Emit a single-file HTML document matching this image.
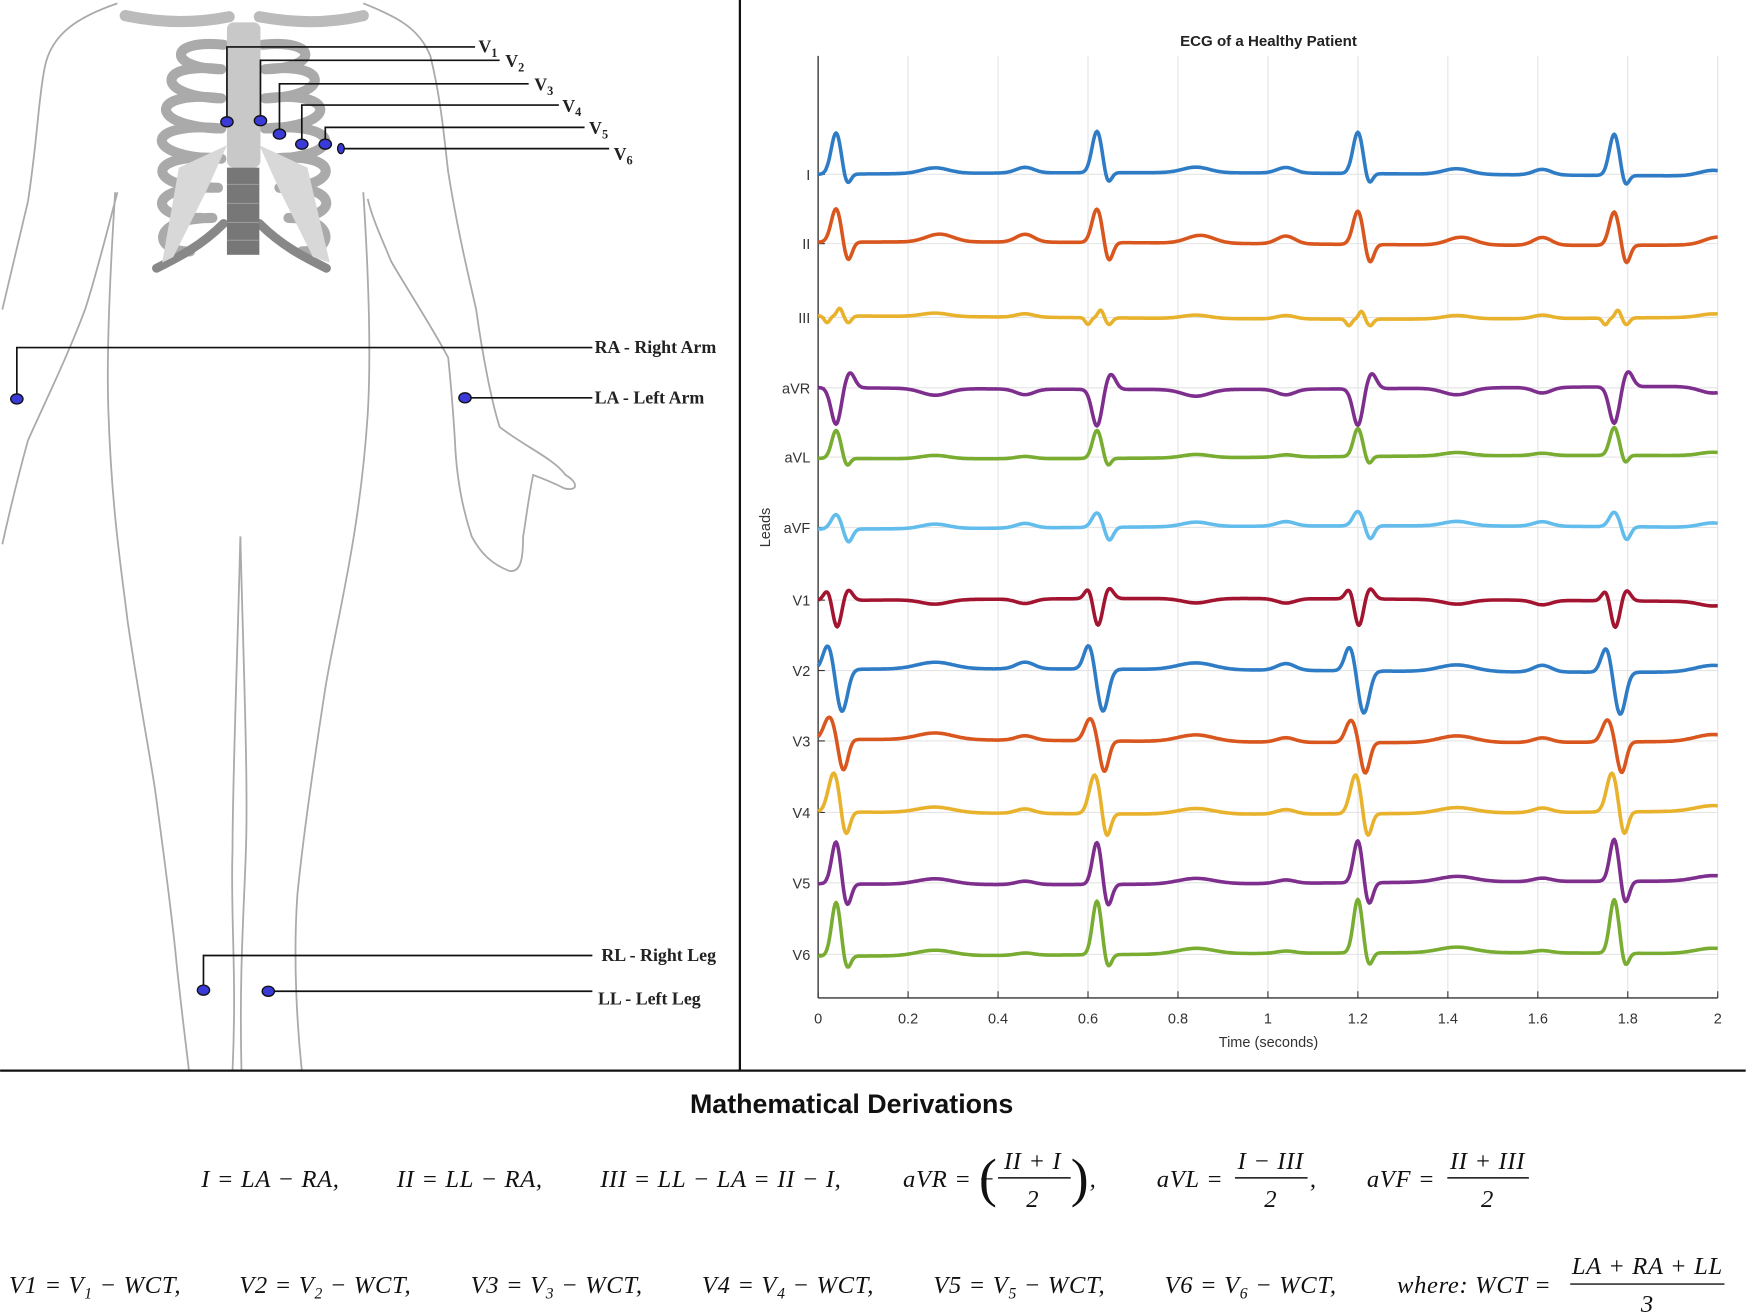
<!DOCTYPE html>
<html><head><meta charset="utf-8">
<style>
html,body{margin:0;padding:0;background:#fff;}
svg{display:block;}
.lab{font-family:"Liberation Serif",serif;font-weight:bold;font-size:16px;fill:#222;}
.tk{font-family:"Liberation Sans",sans-serif;font-size:13px;fill:#333;}
.m{font-family:"Liberation Serif",serif;font-style:italic;font-size:22px;fill:#111;letter-spacing:0.6px;}
</style></head>
<body>
<svg id="s" width="1748" height="1312" viewBox="0 0 1564 1174" xmlns="http://www.w3.org/2000/svg">
<rect width="1564" height="1174" fill="#fff"/>
<g fill="none" stroke="#aaa" stroke-width="1.6">
<path d="M105,3 C70,15 46,30 40,60 C34,90 34,120 25,180 L2,277"/>
<path d="M105,172 C95,210 85,250 76,277 C60,320 40,360 25,394 C15,430 8,460 2,487"/>
<path d="M103,172 C98,250 95,320 97,370 C100,460 110,520 114,555 C125,630 135,680 139,709 C150,790 155,830 158,863 C163,910 167,940 169,958"/>
<path d="M325,172 C330,250 332,320 329,370 C322,480 300,560 291,616 C278,700 270,760 266,801 C262,860 266,920 270,958"/>
<path d="M325,3 C355,15 375,25 385,50 C395,90 398,130 401,154 C410,210 420,250 426,277 C432,320 440,360 447,382 C470,400 495,410 506,425 C518,432 517,440 505,437 C495,432 485,428 477,425 C472,450 470,470 468,480 C468,500 466,512 456,511 C440,505 430,495 422,480 C412,450 408,420 407,394 C405,360 403,340 401,320 C385,290 365,260 350,234 C340,210 333,195 329,178"/>
<path d="M215,480 C212,600 208,700 208,760 C206,820 212,870 208,958"/>
<path d="M215,480 C218,600 222,700 220,760 C218,820 214,870 216,958"/>
</g>
<g fill="none" stroke-linecap="round">
<path d="M112,14 C150,22 180,20 205,15" stroke="#bbb" stroke-width="10"/>
<path d="M232,15 C260,20 290,22 325,14" stroke="#bbb" stroke-width="10"/>
<g stroke="#aaa" stroke-width="9">
<path d="M200,40 C150,35 150,60 195,62"/>
<path d="M198,62 C140,55 138,85 195,88"/>
<path d="M198,88 C135,80 130,112 195,115"/>
<path d="M198,115 C130,108 125,140 195,142"/>
<path d="M198,142 C130,135 128,168 190,168"/>
<path d="M195,168 C132,165 130,195 180,195"/>
<path d="M190,195 C135,195 135,225 170,225"/>
<path d="M235,40 C285,35 285,60 240,62"/>
<path d="M237,62 C295,55 297,85 240,88"/>
<path d="M237,88 C300,80 305,112 240,115"/>
<path d="M237,115 C305,108 310,140 245,142"/>
<path d="M245,142 C305,135 307,168 250,168"/>
<path d="M250,168 C303,165 305,195 260,195"/>
<path d="M258,195 C300,195 300,225 270,225"/>
</g>
<path d="M200,200 C180,220 160,230 140,240" stroke="#888" stroke-width="8"/>
<path d="M232,200 C252,220 272,230 292,240" stroke="#888" stroke-width="8"/>
</g>
<rect x="203" y="20" width="30" height="130" rx="6" fill="#c8c8c8"/>
<path d="M232,130 L275,150 L295,235 L280,230 L250,170 Z" fill="#d8d8d8"/>
<path d="M203,130 L160,150 L145,235 L155,230 L185,170 Z" fill="#d8d8d8"/>
<rect x="203" y="150" width="29" height="78" fill="#777"/>
<g stroke="#999" stroke-width="1"><line x1="203" y1="165" x2="232" y2="165"/><line x1="203" y1="182" x2="232" y2="182"/><line x1="203" y1="199" x2="232" y2="199"/><line x1="203" y1="215" x2="232" y2="215"/></g>
<g stroke="#111" stroke-width="1.5" fill="none">
<path d="M203,105 V42 H425"/><path d="M233,104 V54 H447"/><path d="M250,117 V75 H473"/>
<path d="M270,126 V94 H500"/><path d="M291,126 V114 H523"/><path d="M305,133 H545"/>
<path d="M15,354 V311 H530"/><path d="M416,356 H530"/>
<path d="M182,883 V855 H530"/><path d="M240,887 H530"/>
</g>
<g fill="#3a3ad8" stroke="#111" stroke-width="1.2">
<ellipse cx="203" cy="109" rx="5.5" ry="4.5"/><ellipse cx="233" cy="108" rx="5.5" ry="4.5"/>
<ellipse cx="250" cy="120" rx="5.5" ry="4.5"/><ellipse cx="270" cy="129" rx="5.5" ry="4.5"/>
<ellipse cx="291" cy="129" rx="5.5" ry="4.5"/><ellipse cx="305" cy="133" rx="3" ry="4.5"/>
<ellipse cx="15" cy="357" rx="5.5" ry="4.5"/><ellipse cx="416" cy="356" rx="5.5" ry="4.5"/>
<ellipse cx="182" cy="886" rx="5.5" ry="4.5"/><ellipse cx="240" cy="887" rx="5.5" ry="4.5"/>
</g>
<g class="lab">
<text x="428" y="47">V<tspan font-size="11" dy="4">1</tspan></text>
<text x="452" y="60">V<tspan font-size="11" dy="4">2</tspan></text>
<text x="478" y="81">V<tspan font-size="11" dy="4">3</tspan></text>
<text x="503" y="100">V<tspan font-size="11" dy="4">4</tspan></text>
<text x="527" y="120">V<tspan font-size="11" dy="4">5</tspan></text>
<text x="549" y="143">V<tspan font-size="11" dy="4">6</tspan></text>
<text x="532" y="316">RA - Right Arm</text>
<text x="532" y="361">LA - Left Arm</text>
<text x="538" y="860">RL - Right Leg</text>
<text x="535" y="899">LL - Left Leg</text>
</g>
<line x1="662" y1="0" x2="662" y2="958" stroke="#111" stroke-width="2"/>
<line x1="0" y1="958" x2="1562" y2="958" stroke="#111" stroke-width="2"/>
<g id="grid" stroke="#e4e4e4" stroke-width="1"></g>
<line x1="732" y1="50" x2="732" y2="893" stroke="#333" stroke-width="1.2"/>
<line x1="732" y1="893" x2="1537" y2="893" stroke="#333" stroke-width="1.2"/>
<g id="ticks"></g>
<g id="traces" fill="none" stroke-width="3.2" stroke-linejoin="round"></g>
<text x="1135" y="41" text-anchor="middle" font-family="Liberation Sans, sans-serif" font-weight="bold" font-size="13.5" fill="#222">ECG of a Healthy Patient</text>
<text x="1135" y="937" text-anchor="middle" class="tk" font-size="14">Time (seconds)</text>
<text transform="translate(689,472) rotate(-90)" text-anchor="middle" class="tk" font-size="14">Leads</text>
<text x="762" y="996" text-anchor="middle" font-family="Liberation Sans, sans-serif" font-weight="bold" font-size="24" fill="#111">Mathematical Derivations</text>
<g class="m">
<text x="180" y="1062">I = LA − RA,</text>
<text x="355" y="1062">II = LL − RA,</text>
<text x="537" y="1062">III = LL − LA = II − I,</text>
<text x="808" y="1062">aVR = −</text>
<text x="876" y="1070" font-size="48" font-style="normal">(</text>
<text x="924" y="1046" text-anchor="middle">II + I</text>
<line x1="893" y1="1054" x2="958" y2="1054" stroke="#111" stroke-width="1.3"/>
<text x="924" y="1080" text-anchor="middle">2</text>
<text x="958" y="1070" font-size="48" font-style="normal">)</text>
<text x="975" y="1062">,</text>
<text x="1035" y="1062">aVL =</text>
<text x="1137" y="1046" text-anchor="middle">I − III</text>
<line x1="1105" y1="1054" x2="1170" y2="1054" stroke="#111" stroke-width="1.3"/>
<text x="1137" y="1080" text-anchor="middle">2</text>
<text x="1172" y="1062">,</text>
<text x="1223" y="1062">aVF =</text>
<text x="1331" y="1046" text-anchor="middle">II + III</text>
<line x1="1295" y1="1054" x2="1368" y2="1054" stroke="#111" stroke-width="1.3"/>
<text x="1331" y="1080" text-anchor="middle">2</text>
<text x="8" y="1157">V1 = V<tspan font-size="14" dy="5">1</tspan><tspan dy="-5"> − WCT,</tspan></text>
<text x="214" y="1157">V2 = V<tspan font-size="14" dy="5">2</tspan><tspan dy="-5"> − WCT,</tspan></text>
<text x="421" y="1157">V3 = V<tspan font-size="14" dy="5">3</tspan><tspan dy="-5"> − WCT,</tspan></text>
<text x="628" y="1157">V4 = V<tspan font-size="14" dy="5">4</tspan><tspan dy="-5"> − WCT,</tspan></text>
<text x="835" y="1157">V5 = V<tspan font-size="14" dy="5">5</tspan><tspan dy="-5"> − WCT,</tspan></text>
<text x="1042" y="1157">V6 = V<tspan font-size="14" dy="5">6</tspan><tspan dy="-5"> − WCT,</tspan></text>
<text x="1250" y="1157">where: WCT =</text>
<text x="1474" y="1140" text-anchor="middle">LA + RA + LL</text>
<line x1="1405" y1="1149" x2="1543" y2="1149" stroke="#111" stroke-width="1.3"/>
<text x="1474" y="1174" text-anchor="middle">3</text>
</g>
</svg>
<script>
(function(){
var NS="http://www.w3.org/2000/svg";
function el(p,t,a,txt){var e=document.createElementNS(NS,t);for(var k in a)e.setAttribute(k,a[k]);if(txt!=null)e.textContent=txt;p.appendChild(e);return e;}
var x0=732,xs=402.5;
var grid=document.getElementById('grid'),ticks=document.getElementById('ticks'),tr=document.getElementById('traces');
var base=[156,218,284,347,409,472,537,600,663,727,790,854];
var names=["I","II","III","aVR","aVL","aVF","V1","V2","V3","V4","V5","V6"];
var cols=["#2f7cc6","#d9571f","#e8b22c","#7e2f8e","#78ad31","#62bdec","#a2142f","#2f7cc6","#d9571f","#e8b22c","#7e2f8e","#78ad31"];
for(var i=1;i<=10;i++){var x=x0+i*0.2*xs;el(grid,'line',{x1:x,y1:50,x2:x,y2:893});}
base.forEach(function(b){el(grid,'line',{x1:x0,y1:b,x2:1537,y2:b});});
for(var i=0;i<=10;i++){var v=i*0.2,x=x0+v*xs;el(ticks,'line',{x1:x,y1:893,x2:x,y2:887,stroke:'#333'});
 var s=(Math.round(v*10)/10).toString();el(ticks,'text',{x:x,y:916,'text-anchor':'middle','class':'tk'},s);}
base.forEach(function(b,i){el(ticks,'line',{x1:x0,y1:b,x2:x0+6,y2:b,stroke:'#333'});
 el(ticks,'text',{x:725,y:b+5,'text-anchor':'end','class':'tk'},names[i]);});
var P={
I:[[0,0.011,37],[0.024,0.008,-10],[0.22,0.03,5],[-0.16,0.02,5]],
II:[[0,0.011,30],[0.026,0.009,-17],[0.23,0.03,7],[-0.16,0.02,7]],
III:[[-0.02,0.006,-6],[0.008,0.006,7],[0.027,0.007,-6],[0.22,0.03,3],[-0.16,0.02,3]],
aVR:[[0,0.011,-33],[0.03,0.011,14],[0.22,0.03,-6],[-0.16,0.02,-5]],
aVL:[[0,0.01,25],[0.024,0.007,-7],[0.22,0.03,3],[-0.16,0.02,2]],
aVF:[[0,0.011,13],[0.027,0.009,-12],[0.22,0.03,4],[-0.16,0.02,4]],
V1:[[-0.018,0.009,10],[0.002,0.01,-25],[0.026,0.01,10],[0.22,0.03,-4],[-0.16,0.02,-4]],
V2:[[-0.018,0.011,22],[0.013,0.012,-38],[0.22,0.04,6],[-0.16,0.02,6]],
V3:[[-0.015,0.012,20],[0.016,0.01,-28],[0.22,0.04,6],[-0.16,0.02,4]],
V4:[[-0.005,0.012,35],[0.021,0.009,-22],[0.22,0.04,5],[-0.16,0.02,4]],
V5:[[0,0.01,38],[0.024,0.009,-20],[0.22,0.04,5],[-0.16,0.02,3]],
V6:[[0,0.01,48],[0.024,0.008,-12],[0.22,0.04,5],[-0.16,0.02,2]]};
var beats=[0.04,0.62,1.2,1.77];
names.forEach(function(n,i){
 var comps=P[n],d="";
 for(var k=0;k<=800;k++){var t=k/400,y=0;
  beats.forEach(function(bt){comps.forEach(function(c){var w=c[1]||0.01,z=(t-bt-c[0])/w;y+=c[2]*Math.exp(-0.5*z*z);});});
  y+=1.5*Math.sin(t*2.2+i);
  d+=(k?"L":"M")+(x0+t*xs).toFixed(1)+","+(base[i]-y).toFixed(1);}
 el(tr,'path',{d:d,stroke:cols[i]});
});
})();
</script>
</body></html>
